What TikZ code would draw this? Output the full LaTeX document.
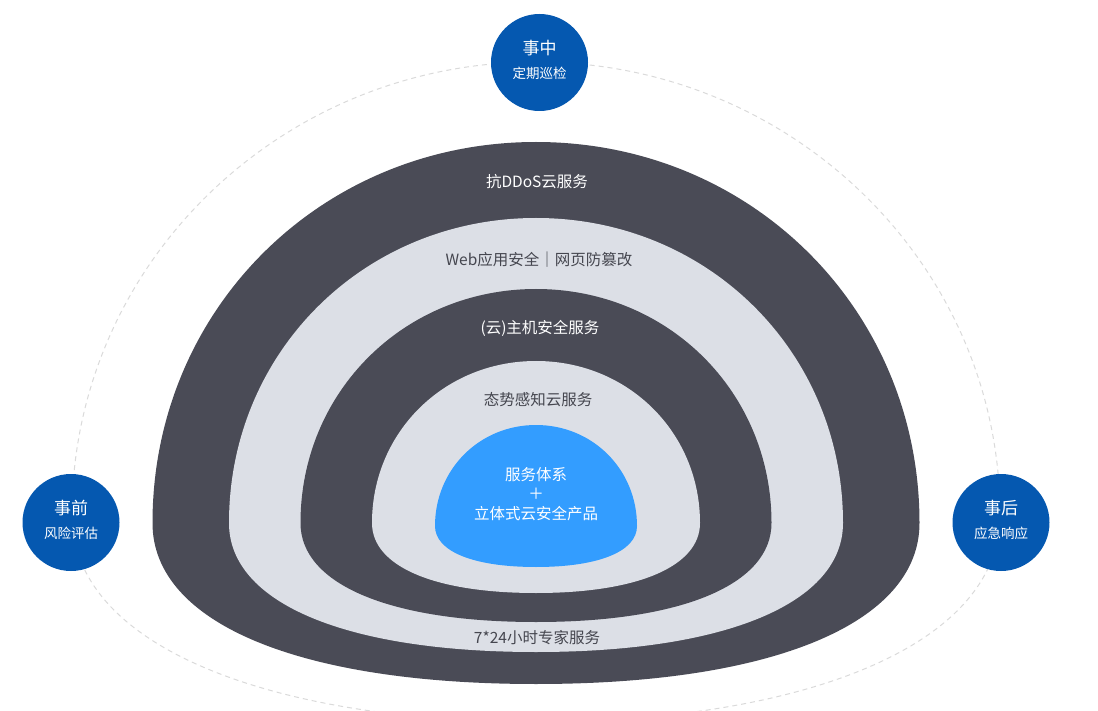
\documentclass[tikz,border=0pt]{standalone}
\usepackage{fontspec}
\setmainfont{Noto Sans CJK SC}
\usepackage{tikz}
\definecolor{ringdark}{HTML}{4A4B56}
\definecolor{ringlight}{HTML}{DCDFE6}
\definecolor{coreblue}{HTML}{339DFF}
\definecolor{phaseblue}{HTML}{0558B0}
\definecolor{dashgray}{HTML}{DADADA}
\definecolor{labelgray}{HTML}{45464F}

% dome: #1 half width, #2 rise, #3 drop, #4 widest line, #5 colour
\newcommand{\drawdome}[5]{%
  \fill[#5] ({536-#1},#4) .. controls ({536-#1},{#4-0.56*#2}) and ({536-0.56*#1},{#4-#2}) .. (536,{#4-#2})
    .. controls ({536+0.56*#1},{#4-#2}) and ({536+#1},{#4-0.56*#2}) .. ({536+#1},#4)
    .. controls ({536+#1},{#4+0.62*#3}) and ({536+0.62*#1},{#4+#3}) .. (536,{#4+#3})
    .. controls ({536-0.62*#1},{#4+#3}) and ({536-#1},{#4+0.62*#3}) .. cycle;}

\tikzset{
  phase/.style={circle, fill=phaseblue, minimum size=97pt, inner sep=0pt},
  phasemain/.style={text=white, font=\fontsize{17}{20}\selectfont},
  phasesub/.style={text=white, font=\fontsize{13.5}{16}\selectfont},
  onband/.style={text=white, font=\fontsize{15.5}{18}\selectfont},
  offband/.style={text=labelgray, font=\fontsize{15.5}{18}\selectfont}
}

\begin{document}
\begin{tikzpicture}[x=1pt, y=-1pt]
  \useasboundingbox (0,0) rectangle (1098,711);

  % Dashed cycle
  \draw[dashgray, line width=1pt, dash pattern=on 5pt off 4pt]
    (72,515) .. controls (72,265) and (280,62) .. (536,62)
    .. controls (792,62) and (1000,265) .. (1000,515)
    .. controls (1000,650) and (792,722) .. (536,722)
    .. controls (280,722) and (72,650) .. cycle;

  % Nested domes
  \drawdome{383.5}{381}{161}{523}{ringdark}
  \drawdome{307}{305}{129}{523}{ringlight}
  \drawdome{235.5}{234}{99}{523}{ringdark}
  \drawdome{164}{162}{70}{523}{ringlight}
  \drawdome{101}{101}{41}{526}{coreblue}

  % Band labels
  \node[onband] (ddos) at (537,182) {抗DDoS云服务};
  \node[offband] (web) at (539,260) {Web应用安全｜网页防篡改};
  \node[onband] (host) at (540,328) {(云)主机安全服务};
  \node[offband] (aware) at (538,400) {态势感知云服务};
  \node[offband] (expert) at (537,638) {7*24小时专家服务};

  % Core
  \node[onband] (core1) at (536,475) {服务体系};
  \node[onband] (core2) at (536,494) {＋};
  \node[onband] (core3) at (536,514) {立体式云安全产品};

  % Phase circles
  \node[phase] (mid) at (539.5,62.5) {};
  \node[phasemain] (midtop) at ([yshift=14.5pt]mid.center) {事中};
  \node[phasesub] (midsub) at ([yshift=-11pt]mid.center) {定期巡检};

  \node[phase] (pre) at (71,522.5) {};
  \node[phasemain] (pretop) at ([yshift=14.5pt]pre.center) {事前};
  \node[phasesub] (presub) at ([yshift=-11pt]pre.center) {风险评估};

  \node[phase] (post) at (1001,522.5) {};
  \node[phasemain] (posttop) at ([yshift=14.5pt]post.center) {事后};
  \node[phasesub] (postsub) at ([yshift=-11pt]post.center) {应急响应};
\end{tikzpicture}
\end{document}
